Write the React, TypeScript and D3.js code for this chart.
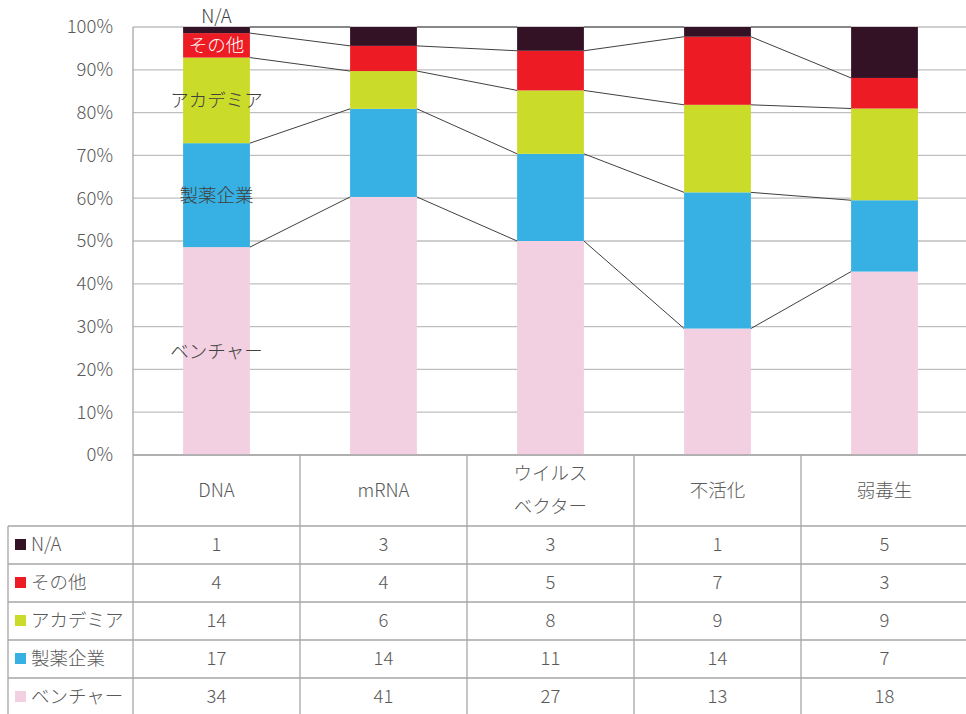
import React from "react";
import * as d3 from "d3";

const categories = ["DNA", "mRNA", "ウイルスベクター", "不活化", "弱毒生"];
const categoryLines = [["DNA"], ["mRNA"], ["ウイルス", "ベクター"], ["不活化"], ["弱毒生"]];
// stacking order bottom -> top
const seriesNames = ["ベンチャー", "製薬企業", "アカデミア", "その他", "N/A"];
const seriesColors = ["#f2cfe1", "#37b1e3", "#cbdb2a", "#ed1c24", "#331226"];
const venture = [34, 41, 27, 13, 18];
const pharma = [17, 14, 11, 14, 7];
const academia = [14, 6, 8, 9, 9];
const other = [4, 4, 5, 7, 3];
const na = [1, 3, 3, 1, 5];
const seriesValues = [venture, pharma, academia, other, na];
const yTicks = [0, 0.1, 0.2, 0.3, 0.4, 0.5, 0.6, 0.7, 0.8, 0.9, 1.0];

const FONT = "'Noto Sans CJK JP', 'Noto Sans', sans-serif";
const TXT = "#595959";
const FS = 18.5;

export default function App() {
  const W = 966, H = 714;
  const left = 133, right = 968, top = 27, bottom = 455;
  const x = d3.scaleBand<string>().domain(categories).range([left, right]).paddingInner(0.6).paddingOuter(0.3);
  const col = d3.scaleBand<string>().domain(categories).range([left, right]);
  const y = d3.scaleLinear().domain([0, 1]).range([bottom, top]);

  const rows = categories.map((c, i) => {
    const o: any = { cat: c };
    seriesNames.forEach((s, k) => (o[s] = seriesValues[k][i]));
    return o;
  });
  const stack = d3.stack<any>().keys(seriesNames).offset(d3.stackOffsetExpand);
  const layers = stack(rows);
  const bw = x.bandwidth();

  // series lines
  const seriesLines: { x1: number; y1: number; x2: number; y2: number }[] = [];
  layers.forEach((layer) => {
    for (let i = 0; i < categories.length - 1; i++) {
      seriesLines.push({
        x1: (x(categories[i]) as number) + bw,
        y1: y(layer[i][1]),
        x2: x(categories[i + 1]) as number,
        y2: y(layer[i + 1][1]),
      });
    }
  });

  const headerTop = bottom, headerBottom = 526, rowH = 38;
  const tableRows = [...seriesNames].map((s, k) => k).reverse(); // N/A first
  const tableBottom = headerBottom + rowH * tableRows.length;
  const lineColor = "#a6a6a6";

  const first = categories[0];
  const cx0 = (x(first) as number) + bw / 2;

  return (
    <svg width={W} height={H} style={{ position: "absolute", left: 0, top: 0, background: "#fff" }} fontFamily={FONT}>
      {/* gridlines */}
      {yTicks.map((t) => (
        <line key={t} x1={left} x2={right} y1={y(t)} y2={y(t)} stroke="#bfbfbf" strokeWidth={1.3} />
      ))}
      {yTicks.map((t) => (
        <text key={"l" + t} x={113} y={y(t)} dy="0.35em" textAnchor="end" fontSize={FS} fill={TXT} fontWeight={300}>
          {Math.round(t * 100) + "%"}
        </text>
      ))}
      {/* bars */}
      {layers.map((layer, k) =>
        layer.map((d, i) => (
          <rect
            key={k + "-" + i}
            x={x(categories[i]) as number}
            width={bw}
            y={y(d[1])}
            height={y(d[0]) - y(d[1])}
            fill={seriesColors[k]}
          />
        ))
      )}
      {/* series lines */}
      {seriesLines.map((l, i) => (
        <line key={"s" + i} {...l} stroke="#404040" strokeWidth={1} />
      ))}
      {/* data labels on first bar */}
      {layers.map((layer, k) => {
        const d = layer[0];
        const name = seriesNames[k];
        let cy = y((d[0] + d[1]) / 2);
        if (name === "N/A") cy = y(d[1]) - 10;
        return (
          <text key={"dl" + k} x={cx0} y={cy} dy="0.35em" textAnchor="middle" fontSize={FS} fontWeight={300}
            fill={name === "その他" ? "#ffffff" : "#404040"}>
            {name}
          </text>
        );
      })}
      {/* table */}
      <line x1={left} x2={right} y1={bottom} y2={bottom} stroke={lineColor} strokeWidth={1.3} />
      <line x1={left} x2={left} y1={top} y2={tableBottom} stroke={lineColor} strokeWidth={1.3} />
      {categories.map((c, i) => (
        <line key={"v" + i} x1={(col(c) as number) + col.bandwidth()} x2={(col(c) as number) + col.bandwidth()}
          y1={headerTop} y2={tableBottom} stroke={lineColor} strokeWidth={1.3} />
      ))}
      <line x1={8} x2={8} y1={headerBottom} y2={tableBottom} stroke={lineColor} strokeWidth={1.3} />
      {tableRows.map((k, r) => (
        <line key={"h" + r} x1={8} x2={right} y1={headerBottom + r * rowH} y2={headerBottom + r * rowH}
          stroke={lineColor} strokeWidth={1.3} />
      ))}
      {categories.map((c, i) => {
        const lines = categoryLines[i];
        const cx = (col(c) as number) + col.bandwidth() / 2;
        const mid = (headerTop + headerBottom) / 2;
        return (
          <text key={"c" + i} x={cx} textAnchor="middle" fontSize={FS} fill={TXT} fontWeight={300}>
            {lines.map((ln, j) => (
              <tspan key={j} x={cx} y={mid + (j - (lines.length - 1) / 2) * 33} dy="0.35em">{ln}</tspan>
            ))}
          </text>
        );
      })}
      {tableRows.map((k, r) => {
        const cy = headerBottom + r * rowH + rowH / 2;
        return (
          <g key={"r" + r}>
            <rect x={15} y={cy - 6} width={11} height={11} fill={seriesColors[k]} />
            <text x={31} y={cy} dy="0.35em" fontSize={FS} fill={TXT} fontWeight={300}>{seriesNames[k]}</text>
            {categories.map((c, i) => (
              <text key={i} x={(col(c) as number) + col.bandwidth() / 2} y={cy} dy="0.35em" textAnchor="middle"
                fontSize={FS} fill={TXT} fontWeight={300}>
                {seriesValues[k][i]}
              </text>
            ))}
          </g>
        );
      })}
    </svg>
  );
}
